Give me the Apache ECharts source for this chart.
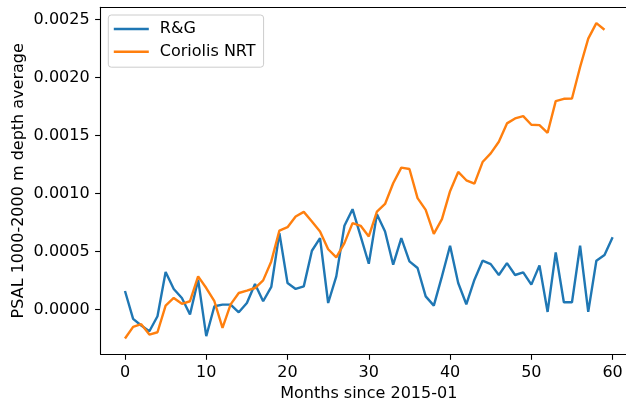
<!DOCTYPE html>
<html>
<head>
<meta charset="utf-8">
<script src="https://cdn.jsdelivr.net/npm/echarts@6/dist/echarts.min.js"></script>
<style>
html,body{margin:0;padding:0;background:#fff;overflow:hidden;}
#chart{width:626px;height:405px;}
</style>
</head>
<body>
<div id="chart"></div>
<script>
const months = Array.from({length: 61}, (_, i) => i);
const rgValues = [
  0.00016, -0.00008, -0.000137, -0.000186, -0.000057, 0.000324, 0.000178, 0.0001, -0.000043, 0.000258,
  -0.000229, 0.000029, 0.000043, 0.000043, -0.000023, 0.000057, 0.00022, 0.000072, 0.000195, 0.000659,
  0.000229, 0.000178, 0.0002, 0.000507, 0.000616, 0.000057, 0.000286, 0.000722, 0.000865, 0.00063,
  0.000395, 0.000822, 0.000673, 0.000387, 0.000616, 0.000415, 0.000358, 0.000114, 0.000034, 0.000286,
  0.00055, 0.000229, 0.000046, 0.000258, 0.000421, 0.000392, 0.000298, 0.000401, 0.000298, 0.000321,
  0.000215, 0.000381, -0.00002, 0.000492, 0.000063, 0.000063, 0.00055, -0.00002, 0.000421, 0.00047,
  0.000624
];
const coriolisValues = [
  -0.000249, -0.000149, -0.000126, -0.000215, -0.000195, 0.000034, 0.0001, 0.00005, 0.000072, 0.000286,
  0.000186, 0.000072, -0.000157, 0.000045, 0.000143, 0.000163, 0.000186, 0.000252, 0.000415, 0.000681,
  0.00071, 0.000802, 0.000842, 0.000759, 0.000673, 0.00052, 0.00045, 0.000573, 0.000745, 0.000722,
  0.00063, 0.000845, 0.00091, 0.001088, 0.001223, 0.001211, 0.00096, 0.000859, 0.000653, 0.000779,
  0.00102, 0.001186, 0.001114, 0.001085, 0.001271, 0.001346, 0.001446, 0.001604, 0.001647, 0.001667,
  0.001592, 0.001589, 0.001523, 0.001796, 0.001816, 0.001819, 0.00209, 0.002334, 0.002468, 0.002411
];
const xTicks = [0, 10, 20, 30, 40, 50, 60];
const yTicks = [0, 0.0005, 0.001, 0.0015, 0.002, 0.0025];

const FONT = 'DejaVu Sans';
const chart = echarts.init(document.getElementById('chart'), null, {renderer: 'canvas'});
chart.setOption({
  animation: false,
  backgroundColor: '#ffffff',
  textStyle: {fontFamily: FONT},
  grid: {
    left: 100.6, top: 7.3, width: 536.4, height: 347,
    show: false, containLabel: false, outerBoundsMode: 'none'
  },
  graphic: [{
    type: 'rect', z: 100, silent: true,
    shape: {x: 621, y: 8.6, width: 6, height: 344.6},
    style: {fill: '#ffffff'}
  }],
  legend: {
    orient: 'vertical', left: 108.3, top: 15,
    data: ['R&G', 'Coriolis NRT'],
    icon: 'rect', itemWidth: 35, itemHeight: 2.4, itemGap: 6.7,
    padding: [6, 8, 7.5, 5.5],
    backgroundColor: 'rgba(255,255,255,0.8)', borderColor: '#cccccc', borderWidth: 1, borderRadius: 3,
    textStyle: {fontFamily: FONT, fontSize: 16, color: '#000', lineHeight: 16, padding: [0, 0, 0, 6]}
  },
  xAxis: [{
    type: 'value', min: -3, max: 63, position: 'bottom',
    name: 'Months since 2015-01', nameLocation: 'middle', nameGap: 31,
    nameTextStyle: {fontFamily: FONT, fontSize: 16, color: '#000'},
    axisLine: {show: true, onZero: false, lineStyle: {color: '#000', width: 1.1}},
    axisTick: {show: true, inside: false, length: 5.5, lineStyle: {color: '#000', width: 1.1}, customValues: xTicks},
    axisLabel: {fontFamily: FONT, fontSize: 16, color: '#000', margin: 11, customValues: xTicks},
    splitLine: {show: false}
  }, {
    type: 'value', min: -3, max: 63, position: 'top',
    axisLine: {show: true, onZero: false, lineStyle: {color: '#000', width: 1.1}},
    axisTick: {show: false}, axisLabel: {show: false}, splitLine: {show: false}
  }],
  yAxis: [{
    type: 'value', min: -0.000385, max: 0.002604, position: 'left',
    name: 'PSAL 1000-2000 m depth average', nameLocation: 'middle', nameGap: 74, nameMoveOverlap: false,
    nameTextStyle: {fontFamily: FONT, fontSize: 16, color: '#000'},
    axisLine: {show: false, onZero: false},
    axisTick: {show: true, inside: false, length: 5.5, lineStyle: {color: '#000', width: 1.1}, customValues: yTicks},
    axisLabel: {fontFamily: FONT, fontSize: 16, color: '#000', margin: 11, customValues: yTicks,
      formatter: v => v.toFixed(4)},
    splitLine: {show: false}
  }, {
    type: 'value', min: -0.000385, max: 0.002604, position: 'left', offset: 0,
    axisLine: {show: true, onZero: false, lineStyle: {color: '#000', width: 1.1}},
    axisTick: {show: false}, axisLabel: {show: false}, splitLine: {show: false}
  }],
  series: [
    {
      name: 'R&G', type: 'line', symbol: 'none', clip: true, xAxisIndex: 0, yAxisIndex: 0,
      lineStyle: {color: '#1f77b4', width: 2.4}, itemStyle: {color: '#1f77b4'},
      data: months.map((m, i) => [m, rgValues[i]])
    },
    {
      name: 'Coriolis NRT', type: 'line', symbol: 'none', clip: true, xAxisIndex: 0, yAxisIndex: 0,
      lineStyle: {color: '#ff7f0e', width: 2.4}, itemStyle: {color: '#ff7f0e'},
      data: coriolisValues.map((v, i) => [months[i], v])
    }
  ]
});
</script>
</body>
</html>
